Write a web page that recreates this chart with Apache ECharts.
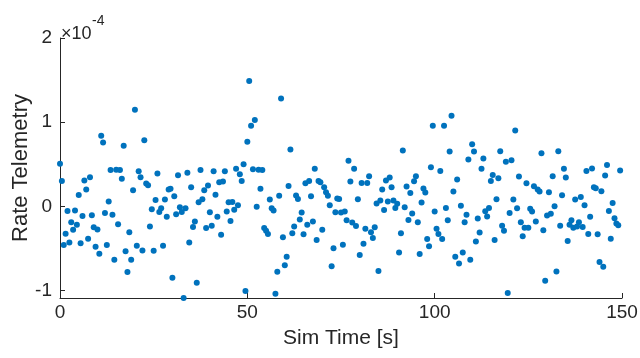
<!DOCTYPE html>
<html>
<head>
<meta charset="utf-8">
<script src="https://cdn.jsdelivr.net/npm/echarts@6/dist/echarts.min.js"></script>
<style>
html,body{margin:0;padding:0;background:#fff;}
#c{width:640px;height:358px;}
</style>
</head>
<body>
<div id="c"></div>
<script>
// Sim time [s]
const timeA = [0,0.5,1,1.5,2,2.5,3,3.5,4,4.5,5,5.5,6,6.5,7,7.5,8,8.5,9,9.5,10,10.5,11,11.5,12,12.5,13,13.5,14,14.5,15,15.5,16,16.5,17,17.5,18,18.5,19,19.5,20,20.5,21,21.5,22,22.5,23,23.5,24,24.5,25,25.5,26,26.5,27,27.5,28,28.5,29,29.5,30,30.5,31,31.5,32,32.5,33,33.5,34,34.5,35,35.5,36,36.5,37,37.5,38,38.5,39,39.5,40,40.5,41,41.5,42,42.5,43,43.5,44,44.5,45,45.5,46,46.5,47,47.5,48,48.5,49,49.5];
const timeB = [50,50.5,51,51.5,52,52.5,53,53.5,54,54.5,55,55.5,56,56.5,57,57.5,58,58.5,59,59.5,60,60.5,61,61.5,62,62.5,63,63.5,64,64.5,65,65.5,66,66.5,67,67.5,68,68.5,69,69.5,70,70.5,71,71.5,72,72.5,73,73.5,74,74.5,75,75.5,76,76.5,77,77.5,78,78.5,79,79.5,80,80.5,81,81.5,82,82.5,83,83.5,84,84.5,85,85.5,86,86.5,87,87.5,88,88.5,89,89.5,90,90.5,91,91.5,92,92.5,93,93.5,94,94.5,95,95.5,96,96.5,97,97.5,98,98.5,99,99.5];
const timeC = [100,100.5,101,101.5,102,102.5,103,103.5,104,104.5,105,105.5,106,106.5,107,107.5,108,108.5,109,109.5,110,110.5,111,111.5,112,112.5,113,113.5,114,114.5,115,115.5,116,116.5,117,117.5,118,118.5,119,119.5,120,120.5,121,121.5,122,122.5,123,123.5,124,124.5,125,125.5,126,126.5,127,127.5,128,128.5,129,129.5,130,130.5,131,131.5,132,132.5,133,133.5,134,134.5,135,135.5,136,136.5,137,137.5,138,138.5,139,139.5,140,140.5,141,141.5,142,142.5,143,143.5,144,144.5,145,145.5,146,146.5,147,147.5,148,148.5,149,149.5];

// Rate telemetry, in units of 1e-4
const rateA = [0.505,0.30,-0.46,-0.325,-0.055,-0.43,-0.19,-0.28,-0.05,-0.22,
0.135,-0.44,-0.115,0.305,0.2,-0.385,0.345,-0.107,-0.25,-0.48,
-0.277,-0.563,0.838,0.758,-0.08,-0.46,0.056,0.43,-0.1,-0.635,
0.433,-0.214,0.43,0.326,0.72,-0.535,-0.78,-0.31,-0.635,0.19,
1.148,-0.468,0.417,0.345,-0.524,0.786,0.27,0.25,-0.24,-0.035,
-0.527,0.076,0.39,-0.067,-0.024,-0.47,0.08,-0.123,0.2,0.207,
-0.85,0.12,-0.095,0.37,-0.012,-0.067,-1.09,-0.024,0.40,-0.43,
0.226,-0.245,-0.18,-0.91,0.048,0.43,0.083,0.19,-0.257,0.246,
-0.071,-0.23,0.417,0.136,-0.123,0.286,-0.337,0.294,0.417,-0.063,
0.048,-0.174,0.052,-0.04,0.445,0.012,0.38,0.30,0.50,-1.008];
const rateB = [0.767,1.49,0.956,0.44,1.024,-0.007,0.433,0.207,0.43,-0.257,
-0.29,-0.33,0.08,-0.024,-0.05,-1.04,-0.777,0.124,1.28,-0.369,
-0.70,-0.60,0.24,0.675,-0.32,-0.24,0.127,0.088,-0.158,-0.075,
-0.333,0.274,-0.22,0.30,0.12,-0.18,0.445,-0.40,0.30,0.286,
-0.28,0.226,0.167,0.124,0.012,-0.714,-0.50,-0.071,0.092,0.088,
-0.075,-0.456,-0.063,-0.167,0.54,0.294,-0.194,0.445,-0.233,0.083,
-0.579,0.278,-0.444,-0.266,0.278,0.357,-0.31,-0.376,-0.25,0.032,
-0.77,0.068,0.198,-0.043,0.306,0.056,0.342,0.226,0.068,-0.019,
0.029,-0.55,-0.32,0.663,-0.012,0.234,-0.162,0.159,-0.087,0.298,
0.357,-0.19,-0.567,0.044,0.21,0.163,-0.39,-0.476,0.464,0.957];
const rateC = [-0.063,-0.266,-0.33,0.42,-0.39,0.957,-0.019,-0.167,0.65,1.076,
0.175,-0.6,0.318,-0.68,0.005,-0.548,-0.19,-0.102,0.556,-0.635,
0.738,0.65,-0.42,-0.146,-0.313,0.445,0.568,-0.06,-0.12,-0.019,
0.30,0.373,-0.40,0.083,0.333,0.655,-0.23,-0.29,0.528,-1.03,
-0.079,0.548,0.08,0.90,-0.024,0.353,-0.19,-0.357,-0.254,0.274,
-0.254,-0.03,-0.063,0.238,-0.18,0.198,0.175,0.63,-0.286,-0.885,
-0.11,0.167,-0.09,0.357,0.0,-0.774,0.655,-0.23,0.131,0.445,
0.342,-0.412,-0.218,-0.167,-0.254,0.08,-0.24,-0.19,0.11,-0.245,
0.012,0.42,-0.33,-0.123,0.449,0.226,0.214,-0.333,-0.662,0.18,
-0.72,0.365,0.49,-0.055,-0.385,0.04,-0.143,-0.206,-0.226,0.425];

const xTicks = [0, 50, 100, 150];
const yTicks = [-1, 0, 1, 2];
const xTitle = 'Sim Time [s]';
const yTitle = 'Rate Telemetry';
const expBase = '×10';
const expPow = '-4';

const times = timeA.concat(timeB, timeC);
const rates = rateA.concat(rateB, rateC);
const points = times.map((t, i) => [t, rates[i]]);

const font = '"Liberation Sans", Arial, Helvetica, sans-serif';
const ink = '#262626';

const chart = echarts.init(document.getElementById('c'), null, {renderer: 'canvas'});
chart.setOption({
  animation: false,
  backgroundColor: '#ffffff',
  grid: {left: 60, right: 18, top: 38, bottom: 60, containLabel: false, outerBoundsMode: 'none'},
  xAxis: {
    type: 'value', min: xTicks[0], max: xTicks[xTicks.length - 1], interval: 50,
    name: xTitle, nameLocation: 'middle', nameGap: 30,
    nameTextStyle: {fontFamily: font, fontSize: 21, color: ink},
    axisLine: {show: true, onZero: false, lineStyle: {color: ink, width: 1}},
    axisTick: {show: true, inside: true, length: 5, lineStyle: {color: ink}},
    axisLabel: {fontFamily: font, fontSize: 19, color: ink, margin: 5},
    splitLine: {show: false}
  },
  yAxis: {
    type: 'value', min: -1.09, max: 2,
    name: yTitle, nameLocation: 'middle', nameGap: 28, nameRotate: 90, nameMoveOverlap: false,
    nameTextStyle: {fontFamily: font, fontSize: 22, color: ink},
    axisLine: {show: true, onZero: false, lineStyle: {color: ink, width: 1}},
    axisTick: {show: true, inside: true, length: 5, lineStyle: {color: ink}, customValues: yTicks},
    axisLabel: {fontFamily: font, fontSize: 19, color: ink, margin: 8, customValues: yTicks},
    splitLine: {show: false}
  },
  graphic: [
    {type: 'text', left: 61, top: 25, style: {text: expBase, fontFamily: font, fontSize: 18, fill: ink}},
    {type: 'text', left: 92, top: 14, style: {text: expPow, fontFamily: font, fontSize: 14, fill: ink}}
  ],
  series: [{
    type: 'scatter',
    data: points,
    symbol: 'circle',
    symbolSize: 6,
    itemStyle: {color: '#0072BD', opacity: 1},
    clip: false
  }]
});
</script>
</body>
</html>
